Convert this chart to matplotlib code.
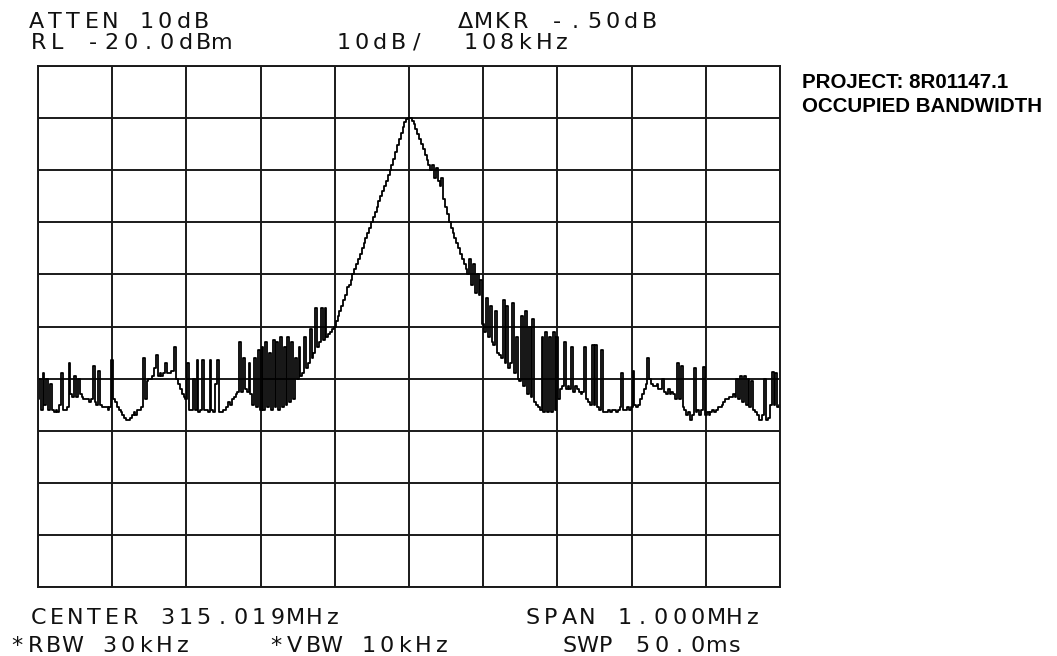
import numpy as np
import matplotlib
matplotlib.use("Agg")
import matplotlib.pyplot as plt

# analyzer settings (from the screen annotations)
center_mhz = 315.019
span_mhz = 1.0
ref_level = -20.0
db_per_div = 10.0

# trace levels in dBm, 401 sweep points (2.5 kHz apart)
trace_dbm = [
    # -500 .. -402.5
    -84, -80, -86, -79, -85, -80, -86, -81, -86,
    -86.5, -86, -86.5, -85, -79, -86, -86, -85.5, -77, -83, -83.5,
    -79.5, -83.5, -80, -83, -83.5, -84, -84, -84, -84.5, -84,
    -77.5, -84.5, -85, -78.5, -85, -85.5, -85.5, -85.5, -86, -85.5,
    # -400 .. -302.5
    -76.5, -84, -84.5, -85.5, -86, -86.5, -87, -87.5, -88, -88,
    -87.5, -87, -86.5, -87, -86, -86, -85.5, -76, -84, -80.5,
    -80, -80, -79.5, -78, -75.5, -79.5, -79, -79.5, -79, -77,
    -79, -79, -78.5, -78.5, -74, -80, -81, -82, -83, -83.5,
    # -300 .. -202.5
    -84, -77, -86, -86, -80, -86, -76.5, -86.5, -86, -76.5,
    -86, -86, -86.5, -76.5, -86, -86.5, -81, -76.5, -86.5, -86.5,
    -86, -86, -85.5, -84.5, -85, -84, -83.5, -83, -82.5, -73,
    -82.5, -76, -82, -82.5, -77, -83, -85, -76, -85.5, -74.5,
    # -200 .. -102.5
    -86, -74, -86, -73, -85.5, -75, -86, -72.5, -85.5, -73,
    -86, -72, -85.5, -74, -85, -72, -84.5, -73, -84, -76,
    -80, -74, -79.5, -79, -72, -78, -77, -70.5, -76, -75,
    -66.5, -74, -73, -66.5, -72.5, -66.5, -72, -71.5, -71, -70.5,
    # -100 .. -2.5
    -70, -69, -68, -67, -66, -65, -64, -62.5, -62, -61,
    -60, -59, -58, -57, -56, -55, -54, -53, -52, -51,
    -50, -49, -48, -47, -46, -45, -44, -43, -42, -41,
    -40, -39, -37.8, -36.5, -35.2, -34, -32.8, -31.8, -30.8, -30.2,
    # 0 .. 97.5
    -30, -30, -30.5, -31.2, -32, -33, -34, -35, -36, -37,
    -38, -39, -40, -39, -41.5, -39.5, -42, -43, -41.5, -45.5,
    -47, -48.5, -50, -51, -52, -53, -54, -55, -56, -57,
    -58, -59, -60, -57, -62, -58, -63.5, -60, -64, -61,
    # 100 .. 197.5
    -69.5, -71, -64.5, -72, -66, -73, -73.5, -67, -75, -75.5,
    -76, -65, -77, -66, -78, -77, -65.5, -79, -72, -80,
    -80.5, -68, -81.5, -67, -83, -70, -83.5, -68.5, -84.5, -85,
    -85.5, -86, -72, -86.5, -71, -86.5, -72, -86.5, -71, -86,
    # 200 .. 297.5
    -72, -84, -82, -81.5, -73, -82, -81.5, -82, -74, -82.5,
    -81.5, -82, -82.5, -83, -82.5, -74, -84, -84.5, -85, -73.5,
    -85, -73.5, -85.5, -86, -74.5, -86.5, -86.5, -86.5, -86, -86.5,
    -86, -86, -86.5, -86, -85.5, -79, -86, -86, -85.5, -86,
    # 300 .. 397.5
    -85.5, -78.5, -85, -85.5, -85, -84, -83, -82, -81, -76,
    -80, -81, -81.5, -81.5, -81, -82, -82, -80, -82.5, -83,
    -82, -83, -82.5, -83, -84, -77, -84, -77.5, -85.5, -86,
    -87, -86.5, -88, -87, -78, -86.5, -86, -87, -86, -77.8,
    # 400 .. 500
    -87, -86.5, -87, -86.5, -86, -86.5, -86, -85.5, -85.5, -85,
    -84.5, -84, -84, -83.5, -83.5, -83, -83.5, -80, -84, -79.5,
    -84.5, -79.5, -85, -80, -85.5, -80.5, -86, -86.5, -87, -88,
    -88, -87, -80, -88, -87.5, -85, -78.8, -85, -79, -85.5,
    -85,
]

top_lines = [("ATTEN 10dB", 27, 28), ("RL -20.0dBm", 29, 49),
             ("10dB/", 334, 49), ("\u0394MKR -.50dB", 456, 28), ("108kHz", 461, 49)]
bottom_lines = [("CENTER 315.019MHz", 29, 624), ("*RBW 30kHz", 8, 652),
                ("*VBW 10kHz", 267, 652), ("SPAN 1.000MHz", 523, 624),
                ("SWP 50.0ms", 560, 652)]
project_lines = ["PROJECT: 8R01147.1", "OCCUPIED BANDWIDTH"]

W, H = 1057, 656
fig = plt.figure(figsize=(W / 100, H / 100), dpi=100)
fig.patch.set_facecolor("white")

# graticule box in pixels: x 38..780, y 66..587
ax = fig.add_axes([38 / W, 1 - 587 / H, (780 - 38) / W, (587 - 66) / H])

freq = center_mhz + np.linspace(-span_mhz / 2, span_mhz / 2, len(trace_dbm))
ax.plot(freq, trace_dbm, color="black", lw=1.3, drawstyle="steps-mid")

ax.set_xlim(center_mhz - span_mhz / 2, center_mhz + span_mhz / 2)
ax.set_ylim(ref_level - 10 * db_per_div, ref_level)
ax.set_xticks(center_mhz + np.arange(-5, 6) * span_mhz / 10)
ax.set_yticks(ref_level - np.arange(0, 11) * db_per_div)
ax.grid(True, color="#1a1a1a", lw=1.4)
ax.set_axisbelow(True)
ax.tick_params(left=False, bottom=False, labelleft=False, labelbottom=False)
for s in ax.spines.values():
    s.set_color("#1a1a1a")
    s.set_linewidth(1.4)


# plotter style text: fixed pitch, each character placed on its own cell
def plotter_text(x_px, y_px, s, pitch=18.4, size=16):
    for i, ch in enumerate(s):
        if ch == " ":
            continue
        fig.text((x_px + pitch / 2 + i * pitch) / W, 1 - y_px / H, ch,
                 ha="center", va="baseline", fontsize=size,
                 family="DejaVu Sans", color="#111111")


for txt, x, y in top_lines + bottom_lines:
    plotter_text(x, y, txt)

fig.text(802 / W, 1 - 88 / H, project_lines[0], fontsize=14.8, fontweight="bold",
         family="Liberation Sans", ha="left", va="baseline")
fig.text(802 / W, 1 - 112 / H, project_lines[1], fontsize=14.8, fontweight="bold",
         family="Liberation Sans", ha="left", va="baseline")

fig.savefig("out.png", dpi=100, facecolor="white")
